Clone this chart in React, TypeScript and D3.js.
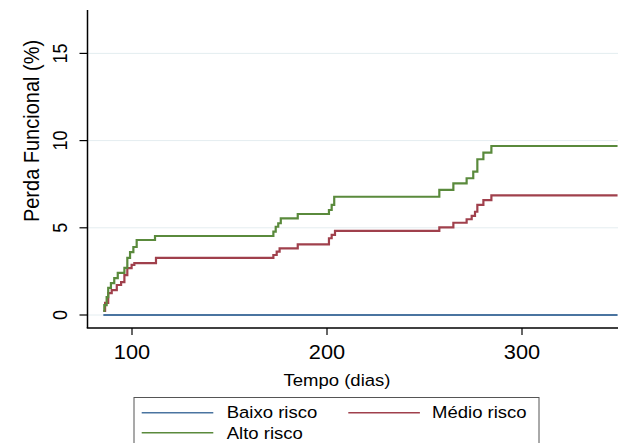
import React from "react";
import * as d3 from "d3";

// ---- data ----
const xTicks = [100, 200, 300];
const yTicks = [0, 5, 10, 15];
const seriesNames = ["Baixo risco", "Médio risco", "Alto risco"];

const baixoDays = [85.3, 349];
const baixoVals = [0, 0];

const medioDays = [85.3, 86.2, 87.8, 89.6, 92.2, 94.4, 96.1, 97.6, 99.8, 101.2, 112.3, 172.5, 174.2, 175.7, 185.0, 201.0, 202.4, 204.1, 257.6, 264.8, 271.6, 274.2, 275.9, 277.1, 280.2, 284.3, 349];
const medioVals = [0.23, 0.69, 1.26, 1.43, 1.72, 1.89, 2.29, 2.69, 2.87, 2.98, 3.27, 3.44, 3.63, 3.82, 4.05, 4.4, 4.59, 4.82, 5.03, 5.29, 5.49, 5.68, 5.92, 6.31, 6.59, 6.86, 6.86];

const altoDays = [85.3, 85.8, 87.0, 87.8, 89.2, 90.9, 92.7, 96.1, 97.6, 99.0, 100.7, 102.4, 111.8, 172.5, 173.7, 175.0, 176.3, 185.0, 201.0, 202.4, 203.7, 257.6, 264.8, 271.6, 275.0, 277.1, 280.2, 284.3, 349];
const altoVals = [0.23, 0.57, 1.03, 1.55, 1.83, 2.12, 2.41, 2.7, 3.27, 3.61, 3.9, 4.3, 4.53, 4.78, 5.06, 5.26, 5.54, 5.79, 6.02, 6.31, 6.78, 7.17, 7.55, 7.84, 8.22, 8.93, 9.31, 9.69, 9.69];

const colors = ["#4a74a0", "#a0404c", "#5a8a3c"];

// ---- layout ----
const W = 618, H = 443;
const axisLeft = 87.5, axisBottom = 328, plotTop = 10, plotRight = 618;
const SX = 1.09;
const FONT = "'Liberation Sans', Arial, Helvetica, sans-serif";

const xScale = d3.scaleLinear().domain([100, 300]).range([132, 522]);
const yScale = d3.scaleLinear().domain([0, 15]).range([315, 53.4]);

const line = d3
  .line<[number, number]>()
  .x((d) => xScale(d[0]))
  .y((d) => yScale(d[1]))
  .curve(d3.curveStepAfter);

function zip(a: number[], b: number[]): [number, number][] {
  return a.map((v, i) => [v, b[i]] as [number, number]);
}

const series = [
  zip(baixoDays, baixoVals),
  zip(medioDays, medioVals),
  zip(altoDays, altoVals),
];

function T(props: {
  x: number;
  y: number;
  size: number;
  rot?: boolean;
  anchor?: string;
  children: React.ReactNode;
}) {
  const { x, y, size, rot, anchor, children } = props;
  return (
    <text
      transform={`translate(${x},${y}) scale(${SX},1)${rot ? " rotate(-90)" : ""}`}
      fontSize={size}
      textAnchor={anchor || "start"}
      fill="#000"
      fontFamily={FONT}
    >
      {children}
    </text>
  );
}

export default function App() {
  const legendItems = [
    { i: 0, lx: 141.7, ly: 412.7, tx: 226.7, ty: 418.3 },
    { i: 1, lx: 348.3, ly: 412.7, tx: 432, ty: 418.3 },
    { i: 2, lx: 141.7, ly: 432.7, tx: 226.7, ty: 439 },
  ];
  return (
    <svg
      width={W}
      height={H}
      style={{ position: "absolute", left: 0, top: 0, background: "#fff" }}
    >
      <rect x={0} y={0} width={W} height={H} fill="#fff" />
      {/* gridlines */}
      {yTicks.map((t) => (
        <line
          key={"g" + t}
          x1={axisLeft}
          x2={plotRight}
          y1={yScale(t)}
          y2={yScale(t)}
          stroke="#e4edf0"
          strokeWidth={1}
        />
      ))}
      {/* series */}
      {series.map((s, i) => (
        <path
          key={"s" + i}
          d={line(s) || ""}
          fill="none"
          stroke={colors[i]}
          strokeWidth={2.2}
        />
      ))}
      {/* axes */}
      <line x1={axisLeft} x2={axisLeft} y1={plotTop} y2={axisBottom} stroke="#000" strokeWidth={1.5} />
      <line x1={axisLeft - 0.75} x2={plotRight} y1={axisBottom} y2={axisBottom} stroke="#000" strokeWidth={1.5} />
      {yTicks.map((t) => (
        <g key={"y" + t}>
          <line x1={axisLeft - 8} x2={axisLeft} y1={yScale(t)} y2={yScale(t)} stroke="#000" strokeWidth={1.2} />
          <T x={66.5} y={yScale(t)} size={18} rot anchor="middle">
            {t}
          </T>
        </g>
      ))}
      {xTicks.map((t) => (
        <g key={"x" + t}>
          <line x1={xScale(t)} x2={xScale(t)} y1={axisBottom} y2={axisBottom + 7} stroke="#000" strokeWidth={1.2} />
          <T x={xScale(t)} y={358.5} size={20} anchor="middle">
            {t}
          </T>
        </g>
      ))}
      <T x={38.5} y={131} size={20} rot anchor="middle">
        Perda Funcional (%)
      </T>
      <T x={337} y={385.5} size={17} anchor="middle">
        Tempo (dias)
      </T>
      {/* legend */}
      <rect x={134} y={397.5} width={405} height={70} fill="#fff" stroke="#555" strokeWidth={1} />
      {legendItems.map((it) => (
        <g key={"l" + it.i}>
          <line x1={it.lx} x2={it.lx + 71.6} y1={it.ly} y2={it.ly} stroke={colors[it.i]} strokeWidth={1.6} />
          <T x={it.tx} y={it.ty} size={17}>
            {seriesNames[it.i]}
          </T>
        </g>
      ))}
    </svg>
  );
}
